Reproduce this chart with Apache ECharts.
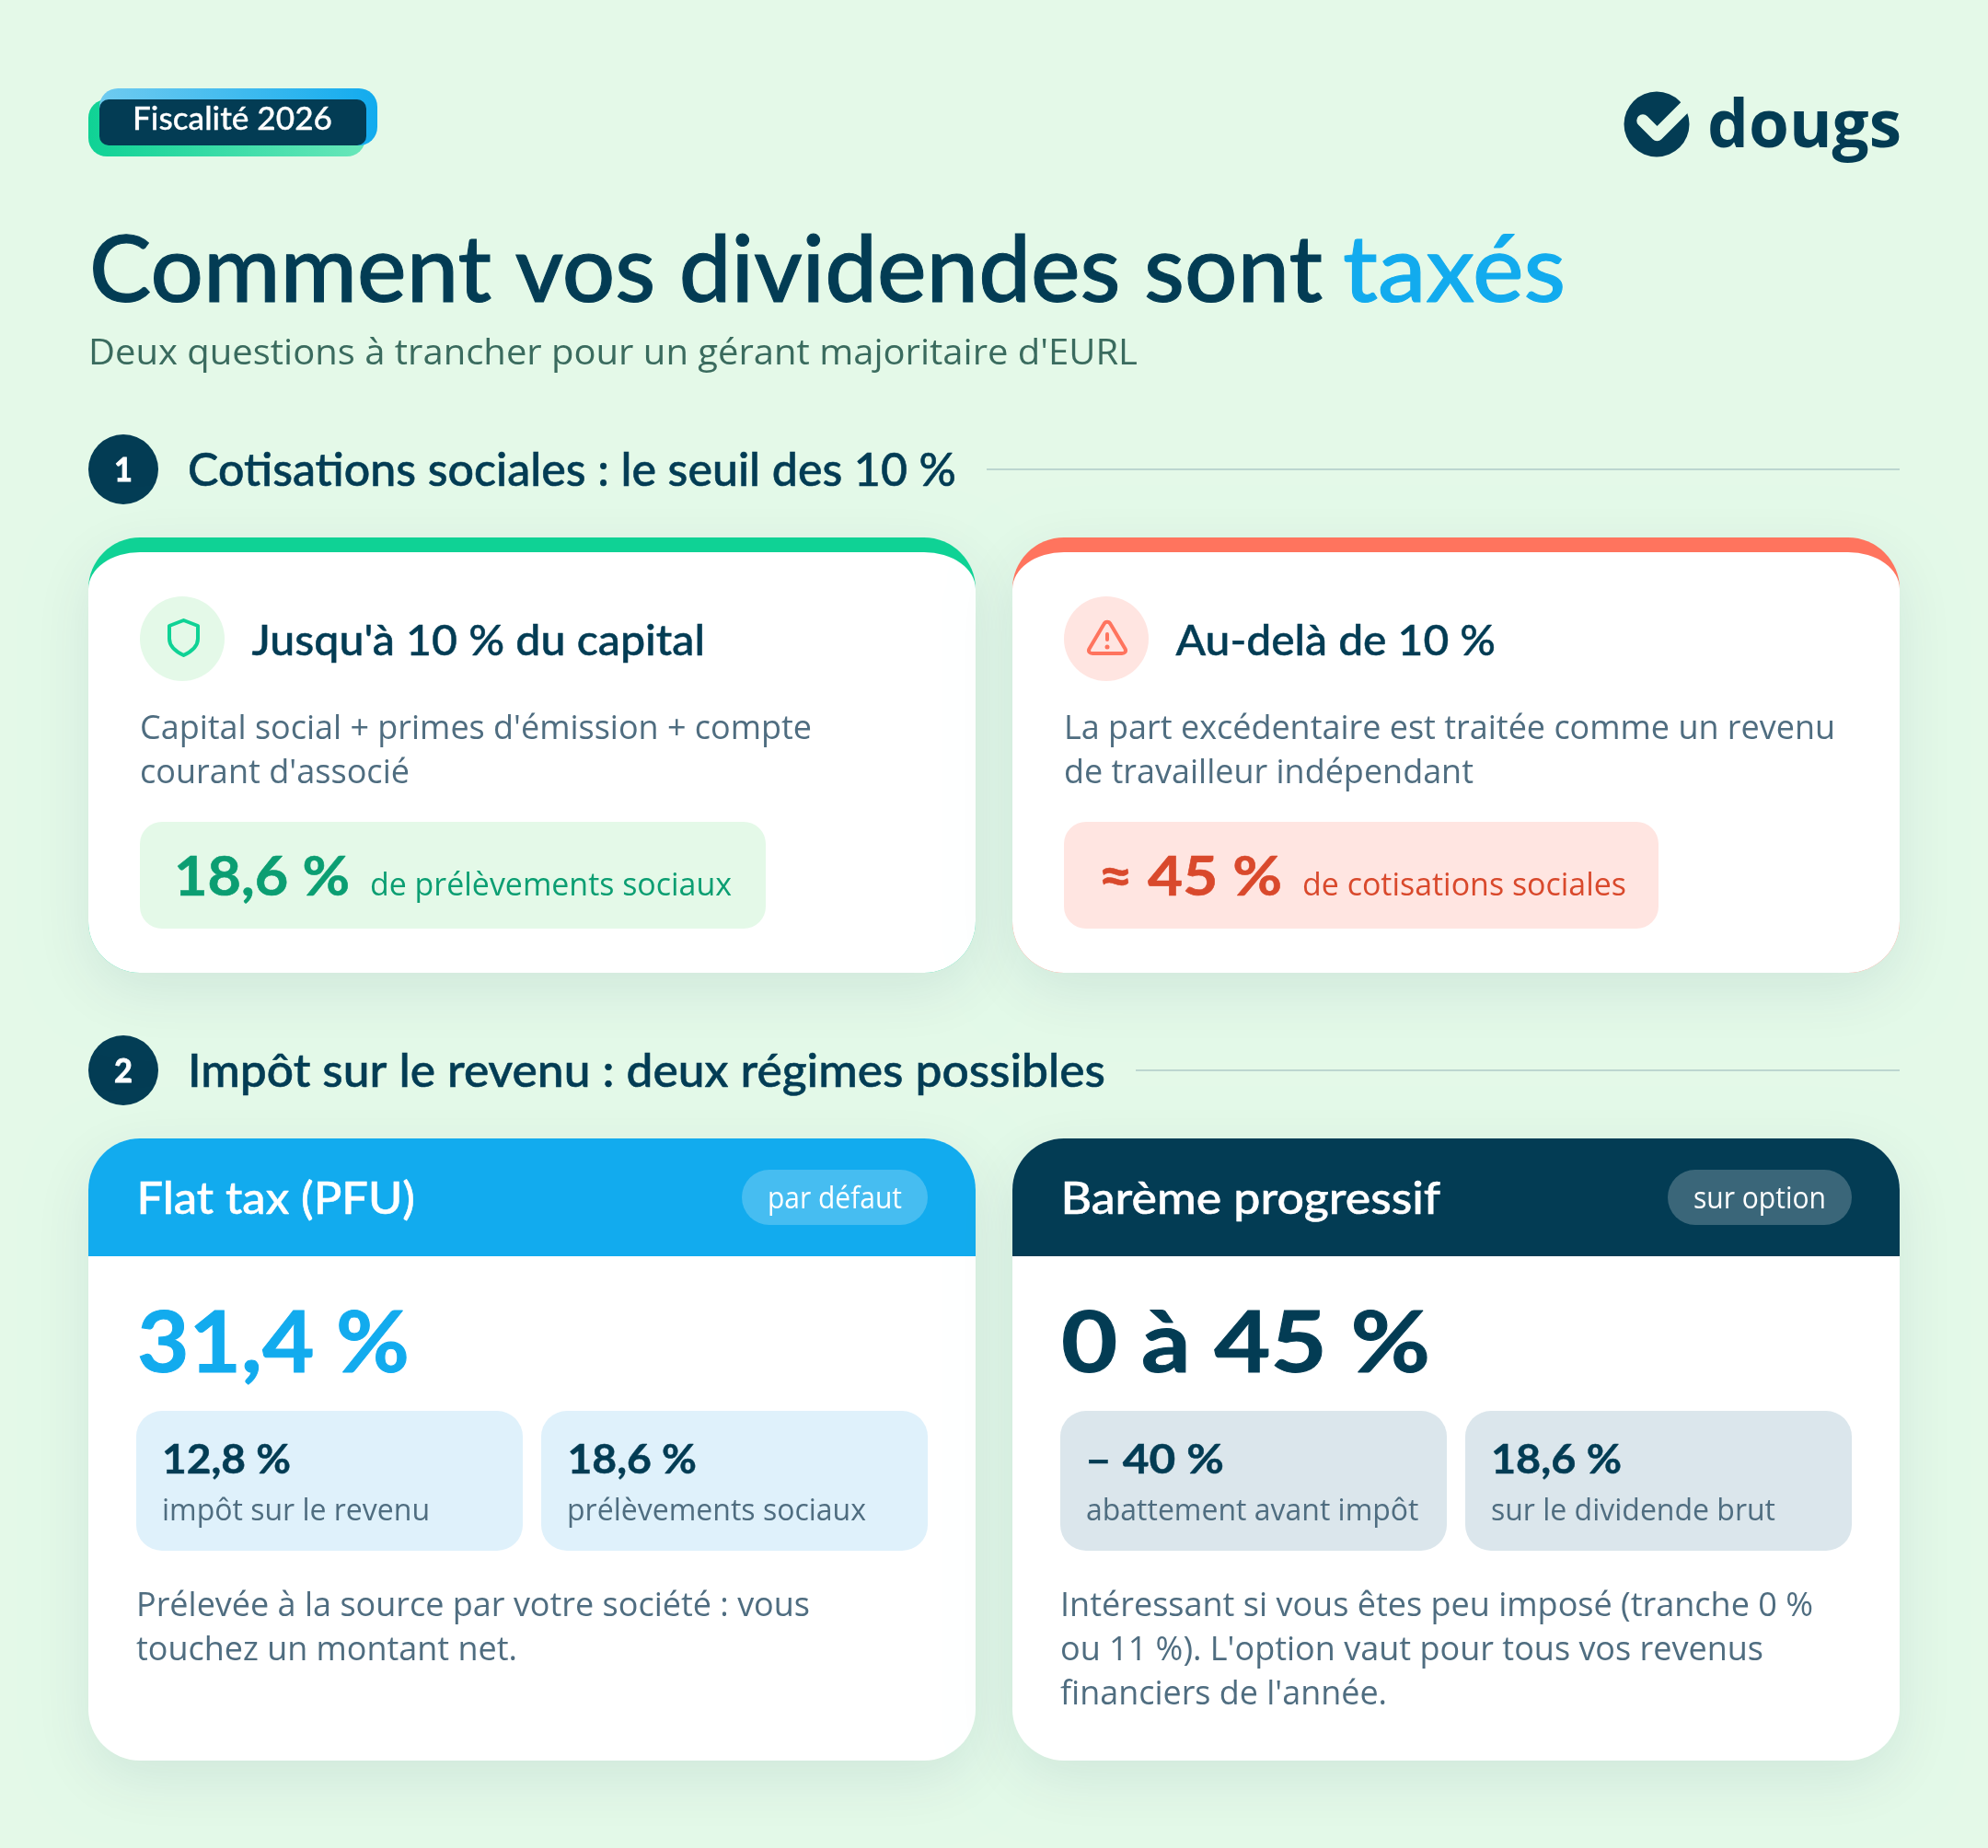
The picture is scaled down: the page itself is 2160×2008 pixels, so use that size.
<!DOCTYPE html>
<html lang="fr">
<head>
<meta charset="utf-8">
<title>Comment vos dividendes sont taxés</title>
<script src="https://cdn.jsdelivr.net/npm/echarts@6/dist/echarts.min.js"></script>
<style>
  html, body { margin: 0; padding: 0; background: #e4f9e8; }
  #main { width: 2160px; height: 2008px; }
</style>
</head>
<body>
<div id="main"></div>
<script>
var badgeLabel = 'Fiscalité 2026';
var brandName = 'dougs';
var titleParts = ['Comment vos dividendes sont', 'taxés'];
var subtitle = "Deux questions à trancher pour un gérant majoritaire d'EURL";
var sectionNumbers = ['1', '2'];
var sectionTitles = ['Cotisations sociales : le seuil des 10 %', 'Impôt sur le revenu : deux régimes possibles'];

var thresholdTitles = ["Jusqu'à 10 % du capital", 'Au-delà de 10 %'];
var thresholdBodies = [
  ["Capital social + primes d'émission + compte", "courant d'associé"],
  ['La part excédentaire est traitée comme un revenu', 'de travailleur indépendant']
];
var thresholdRates = ['18,6 %', '≈ 45 %'];
var thresholdRateLabels = ['de prélèvements sociaux', 'de cotisations sociales'];

var regimeNames = ['Flat tax (PFU)', 'Barème progressif'];
var regimeTags = ['par défaut', 'sur option'];
var regimeRates = ['31,4 %', '0 à 45 %'];
var regimeParts = [['12,8 %', '18,6 %'], ['– 40 %', '18,6 %']];
var regimePartLabels = [
  ['impôt sur le revenu', 'prélèvements sociaux'],
  ['abattement avant impôt', 'sur le dividende brut']
];
var regimeNotes = [
  ['Prélevée à la source par votre société : vous', 'touchez un montant net.'],
  ['Intéressant si vous êtes peu imposé (tranche 0 %', "ou 11 %). L'option vaut pour tous vos revenus", "financiers de l'année."]
];

var NAVY = '#033c54';
var BLUE = '#12abee';
var GREEN = '#0fd295';
var CORAL = '#ff745e';
var SLATE = '#4f6d80';
var BG = '#e4f9e8';
var HEAD = 'Lato';
var BODY = '"Open Sans"';

var measure = document.createElement('canvas').getContext('2d');
var items = [];
var shapeCount = 0;

// text placed by its left edge and baseline, squeezed to the measured width
function label(text, left, right, baseline, font, fill, bolder) {
  measure.font = font;
  measure.textBaseline = 'alphabetic';
  var w = measure.measureText(text).width;
  measure.textBaseline = 'middle';
  var drop = measure.measureText('H').actualBoundingBoxDescent;
  var el = {
    type: 'text',
    x: left,
    y: baseline - drop,
    scaleX: (right - left) / w,
    style: { text: text, font: font, fill: fill, align: 'left', verticalAlign: 'middle' }
  };
  if (bolder) {
    el.style.stroke = fill;
    el.style.lineWidth = bolder;
  }
  items.push(el);
}

function box(x, y, w, h, r, fill, extra) {
  var style = { fill: fill };
  for (var k in extra) style[k] = extra[k];
  items.push({ type: 'rect', shape: { x: x, y: y, width: w, height: h, r: r }, style: style });
}

// the graphic component has no raw path type, so each outline becomes a registered shape
function outline(d, style) {
  var name = 'outline' + (shapeCount++);
  echarts.graphic.registerShape(name, echarts.graphic.extendPath(d, {}));
  items.push({ type: name, style: style });
}

function gradient(c1, c2) {
  return new echarts.graphic.LinearGradient(0, 0, 1, 0, [{ offset: 0, color: c1 }, { offset: 1, color: c2 }]);
}

var cardShadow = { shadowBlur: 64, shadowOffsetY: 20, shadowColor: 'rgba(3,60,84,0.09)' };

// header row
box(96, 108, 301, 62, 20, gradient('#0fd295', '#68e7ba'));
box(108, 96, 302, 62, 20, gradient('#6fcbf0', '#12abee'));
box(108, 108, 290, 50, 10, NAVY);
label(badgeLabel, 144, 361, 141, '500 34px ' + HEAD, '#ffffff', 0.3);

items.push({ type: 'circle', shape: { cx: 1800, cy: 135, r: 35.5 }, style: { fill: NAVY } });
items.push({
  type: 'polyline',
  shape: { points: [[1785, 131], [1800.5, 146.5], [1842, 105]] },
  style: { stroke: BG, lineWidth: 13.5, lineCap: 'round', lineJoin: 'round', fill: null }
});
label(brandName, 1855, 2066, 160, '700 72px ' + BODY, NAVY);

label(titleParts[0], 97, 1437, 328, '500 101px ' + HEAD, NAVY, 1);
label(titleParts[1], 1459, 1701, 328, '500 101px ' + HEAD, BLUE, 1);
label(subtitle, 96, 1236, 396, '400 38px ' + BODY, '#3a6b5e');

// section headings
var sectionY = [510, 1163];
var sectionEnds = [1039, 1201];
var ruleStarts = [1072, 1234];
sectionTitles.forEach(function (t, i) {
  var cy = sectionY[i];
  items.push({ type: 'circle', shape: { cx: 134, cy: cy, r: 38 }, style: { fill: NAVY } });
  label(sectionNumbers[i], 124, 144, cy + 13, '700 36px ' + HEAD, '#ffffff', 0.8);
  label(t, 204, sectionEnds[i], cy + 18, '500 50px ' + HEAD, NAVY, 0.6);
  box(ruleStarts[i], cy - 1, 2064 - ruleStarts[i], 2, 0, '#bcd6d0');
});

// threshold cards
var thresholdX = [96, 1100];
var thresholdAccent = [GREEN, CORAL];
var thresholdTint = ['#e4f9e8', '#ffe5e1'];
var thresholdInk = ['#0b9e72', '#d9492c'];
var titleEnds = [766, 1625];
var bodyEnds = [[882, 445], [1994, 1601]];
var pillEnds = [832, 1802];
var rateSpan = [[189, 380], [1193, 1393]];
var rateLabelSpan = [[402, 795], [1415, 1767]];

thresholdTitles.forEach(function (t, i) {
  var x = thresholdX[i];
  var y = 584, w = 964, h = 473;
  box(x, y, w, h, 56, thresholdAccent[i], cardShadow);
  outline(
    'M' + x + ' ' + (y + 56) + 'A56 40 0 0 1 ' + (x + 56) + ' ' + (y + 16) +
    'L' + (x + w - 56) + ' ' + (y + 16) + 'A56 40 0 0 1 ' + (x + w) + ' ' + (y + 56) +
    'L' + (x + w) + ' ' + (y + h - 56) + 'A56 56 0 0 1 ' + (x + w - 56) + ' ' + (y + h) +
    'L' + (x + 56) + ' ' + (y + h) + 'A56 56 0 0 1 ' + x + ' ' + (y + h - 56) + 'Z',
    { fill: '#ffffff' }
  );
  items.push({ type: 'circle', shape: { cx: x + 102, cy: 694, r: 46 }, style: { fill: thresholdTint[i] } });
  label(t, x + 177.5, titleEnds[i], 712, '500 46px ' + HEAD, NAVY, 0.5);
  thresholdBodies[i].forEach(function (line, j) {
    label(line, x + 56, bodyEnds[i][j], 803 + j * 48, '400 36px ' + BODY, SLATE);
  });
  box(x + 56, 893, pillEnds[i] - x - 56, 116, 24, thresholdTint[i]);
  label(thresholdRates[i], rateSpan[i][0], rateSpan[i][1], 973, '700 60px ' + HEAD, thresholdInk[i], 0.6);
  label(thresholdRateLabels[i], rateLabelSpan[i][0], rateLabelSpan[i][1], 973, '400 34px ' + BODY, thresholdInk[i]);
});

// shield and warning pictograms
outline('M199.5 674L215 680V694C215 703 208 708 199.5 712C191 708 184 703 184 694V680Z',
  { fill: 'none', stroke: GREEN, lineWidth: 4, lineJoin: 'round' });
outline('M1199.5 678C1201 675 1205 675 1206.5 678L1222.5 705C1224 708 1222 710 1219 710H1187C1184 710 1182 708 1183.5 705Z',
  { fill: 'none', stroke: CORAL, lineWidth: 4, lineJoin: 'round' });
box(1201, 687, 4, 10, 2, CORAL);
items.push({ type: 'circle', shape: { cx: 1203, cy: 703, r: 2.5 }, style: { fill: CORAL } });

// regime cards
var regimeX = [96, 1100];
var regimeHead = [BLUE, NAVY];
var regimeRateInk = [BLUE, NAVY];
var partFill = ['#dff1fb', '#dbe6ec'];
var nameEnds = [451, 1565];
var tagBox = [[806, 1008], [1812, 2012]];
var tagText = [[834, 980], [1840, 1984]];
var rateEnds = [445, 1554];
var partValueSpan = [[[176, 316], [616.5, 757]], [[1179, 1330], [1620, 1762]]];
var partLabelSpan = [[[176, 467], [616, 941]], [[1180, 1541.5], [1620, 1929]]];
var noteEnds = [[880, 562], [1970, 1916, 1507]];

regimeNames.forEach(function (t, i) {
  var x = regimeX[i];
  box(x, 1237, 964, 676, 56, '#ffffff', cardShadow);
  box(x, 1237, 964, 128, [56, 56, 0, 0], regimeHead[i]);
  label(t, x + 52.5, nameEnds[i], 1319, '500 48px ' + HEAD, '#ffffff', 0.5);
  box(tagBox[i][0], 1271, tagBox[i][1] - tagBox[i][0], 60, 30, 'rgba(255,255,255,0.22)');
  label(regimeTags[i], tagText[i][0], tagText[i][1], 1313, '400 32px ' + BODY, '#ffffff');
  label(regimeRates[i], x + 53, rateEnds[i], 1491, '700 92px ' + HEAD, regimeRateInk[i], 1);
  [0, 1].forEach(function (j) {
    box(x + 52 + j * 440, 1533, 420, 152, 28, partFill[i]);
    label(regimeParts[i][j], partValueSpan[i][j][0], partValueSpan[i][j][1], 1601, '700 44px ' + HEAD, NAVY, 0.5);
    label(regimePartLabels[i][j], partLabelSpan[i][j][0], partLabelSpan[i][j][1], 1652, '400 32px ' + BODY, SLATE);
  });
  regimeNotes[i].forEach(function (line, j) {
    label(line, x + 52, noteEnds[i][j], 1755.5 + j * 48, '400 36px ' + BODY, SLATE);
  });
});

var myChart = echarts.init(document.getElementById('main'), null, { renderer: 'canvas' });
myChart.setOption({
  backgroundColor: BG,
  animation: false,
  graphic: { elements: items }
});
</script>
</body>
</html>
